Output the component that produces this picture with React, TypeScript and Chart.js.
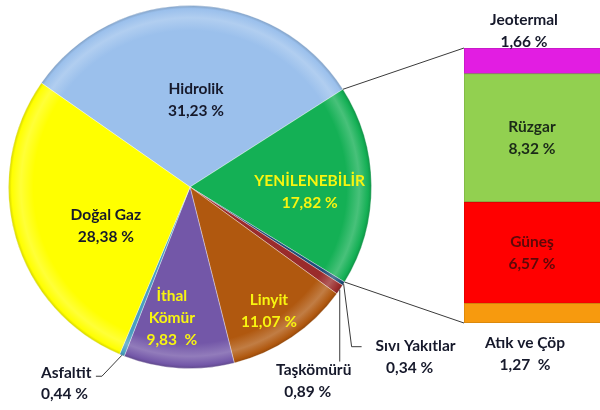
import React, { useEffect, useRef } from 'react';
import { Chart, registerables } from 'chart.js';
Chart.register(...registerables);

// ---- data ----
const pieLabels = ['Hidrolik', 'YENİLENEBİLİR', 'Sıvı Yakıtlar', 'Taşkömürü', 'Linyit', 'İthal Kömür', 'Asfaltit', 'Doğal Gaz'];
const pieValues = [31.23, 17.82, 0.34, 0.89, 11.07, 9.83, 0.44, 28.38];
const pieColors = ['#9BC0EC', '#14B055', '#1F4E79', '#9A2B2B', '#B0580F', '#7357A8', '#4A9FC0', '#FFFF00'];

const barLabels = ['Atık ve Çöp', 'Güneş', 'Rüzgar', 'Jeotermal'];
const barValues = [1.27, 6.57, 8.32, 1.66];
const barColors = ['#F79A0E', '#FF0000', '#92D050', '#E21DE2'];

const wideGap = ['İthal Kömür', 'Atık ve Çöp'];
const fmt = (label: string, v: number) =>
  v.toFixed(2).replace('.', ',') + (wideGap.includes(label) ? '  %' : ' %');

// ---- styles ----
const FONT = 'bold 15.5px Lato';
const DARK = '#16192b';
const YELLOW = '#F8F510';
const LINE_H = 22;

function hexToRgb(h: string) {
  const n = parseInt(h.slice(1), 16);
  return [(n >> 16) & 255, (n >> 8) & 255, n & 255];
}
function mix(hex: string, target: string, t: number) {
  const a = hexToRgb(hex), b = hexToRgb(target);
  const c = a.map((x, i) => Math.round(x + (b[i] - x) * t));
  return `rgb(${c[0]},${c[1]},${c[2]})`;
}

const insidePlacement: Record<number, { k: number; dTheta: number; color: string; lines?: string[] }> = {
  0: { k: 0.48, dTheta: 2.7, color: DARK },
  1: { k: 0.66, dTheta: 3.1, color: YELLOW },
  4: { k: 0.81, dTheta: 1.6, color: YELLOW },
  5: { k: 0.73, dTheta: 4.3, color: YELLOW, lines: ['İthal', 'Kömür'] },
  7: { k: 0.51, dTheta: -8.5, color: DARK },
};

const outsidePlacement: Record<number, { leader: number[][]; name: number[]; value: number[]; align: CanvasTextAlign }> = {
  2: { leader: [[8, 63], [18, 63]], name: [72, 62], value: [66, 84], align: 'center' },
  3: { leader: [[0, 72]], name: [-26, 80], value: [-32, 102], align: 'center' },
  6: { leader: [[-20, 21], [-26, 21]], name: [-81, 18], value: [-81, 39], align: 'left' },
};

const pieLabelPlugin = {
  id: 'pieLabels',
  afterDatasetsDraw(chart: any) {
    const ctx = chart.ctx as CanvasRenderingContext2D;
    const meta = chart.getDatasetMeta(0);
    ctx.save();
    ctx.font = FONT;
    ctx.textBaseline = 'middle';
    meta.data.forEach((el: any, i: number) => {
      const { x, y, startAngle, endAngle, outerRadius } = el;
      const mid = (startAngle + endAngle) / 2;
      const label = pieLabels[i];
      const valText = fmt(label, pieValues[i]);
      const ip = insidePlacement[i];
      if (ip) {
        const a = mid + (ip.dTheta * Math.PI) / 180;
        const px = x + Math.cos(a) * outerRadius * ip.k;
        const py = y + Math.sin(a) * outerRadius * ip.k;
        const lines = [...(ip.lines || [label]), valText];
        ctx.fillStyle = ip.color;
        ctx.textAlign = 'center';
        const n = lines.length;
        lines.forEach((t, j) => ctx.fillText(t, px, py + (j - (n - 1) / 2) * LINE_H));
        return;
      }
      const op = outsidePlacement[i];
      if (op) {
        const ex = x + Math.cos(mid) * outerRadius;
        const ey = y + Math.sin(mid) * outerRadius;
        ctx.strokeStyle = '#3a3a3a';
        ctx.lineWidth = 1;
        ctx.beginPath();
        ctx.moveTo(ex, ey);
        op.leader.forEach(([dx, dy]) => ctx.lineTo(ex + dx, ey + dy));
        ctx.stroke();
        ctx.fillStyle = DARK;
        ctx.textAlign = op.align;
        ctx.fillText(label, ex + op.name[0], ey + op.name[1]);
        ctx.fillText(valText, ex + op.value[0], ey + op.value[1]);
      }
    });
    ctx.restore();
  },
};

const barTextColors: Record<string, string> = {
  'Atık ve Çöp': DARK,
  'Güneş': '#5e0808',
  'Rüzgar': '#1b2a18',
  'Jeotermal': DARK,
};

function makeBarPlugin(pie: Chart) {
  return {
    id: 'barLabels',
    afterDatasetsDraw(chart: any) {
      const ctx = chart.ctx as CanvasRenderingContext2D;
      ctx.save();
      // connectors from renewable slice to bar
      const arc: any = pie.getDatasetMeta(0).data[1];
      const top: any = chart.getDatasetMeta(barLabels.length - 1).data[0];
      const bottom: any = chart.getDatasetMeta(0).data[0];
      const left = top.x - top.width / 2;
      ctx.strokeStyle = '#3a3a3a';
      ctx.lineWidth = 1;
      ctx.beginPath();
      ctx.moveTo(arc.x + Math.cos(arc.startAngle) * arc.outerRadius, arc.y + Math.sin(arc.startAngle) * arc.outerRadius);
      ctx.lineTo(left, top.y);
      ctx.moveTo(arc.x + Math.cos(arc.endAngle) * arc.outerRadius, arc.y + Math.sin(arc.endAngle) * arc.outerRadius);
      ctx.lineTo(left, bottom.base);
      ctx.stroke();

      ctx.font = FONT;
      ctx.textAlign = 'center';
      ctx.textBaseline = 'middle';
      barLabels.forEach((label, i) => {
        const el: any = chart.getDatasetMeta(i).data[0];
        const lines = [label, fmt(label, barValues[i])];
        ctx.fillStyle = barTextColors[label];
        let y0: number;
        let cx = el.x - 3;
        if (i === barLabels.length - 1) { y0 = el.y - 28; cx = el.x - 11; }
        else if (i === 0) { y0 = el.base + 20; cx = el.x - 10; }
        else y0 = (el.y + el.base) / 2 - LINE_H / 2;
        lines.forEach((t, j) => ctx.fillText(t, cx, y0 + j * LINE_H));
      });
      ctx.restore();
    },
  };
}

export default function App() {
  const pieRef = useRef<HTMLCanvasElement>(null);
  const barRef = useRef<HTMLCanvasElement>(null);

  useEffect(() => {
    const pie = new Chart(pieRef.current!, {
      type: 'pie',
      data: {
        labels: pieLabels,
        datasets: [
          {
            data: pieValues,
            backgroundColor: (c: any) => {
              const base = pieColors[c.dataIndex];
              const area = c.chart.chartArea;
              if (!area) return base;
              const cx = (area.left + area.right) / 2;
              const cy = (area.top + area.bottom) / 2;
              const r = Math.min(area.right - area.left, area.bottom - area.top) / 2;
              const g = c.chart.ctx.createRadialGradient(cx, cy, 0, cx, cy, r);
              g.addColorStop(0, base);
              g.addColorStop(0.86, base);
              g.addColorStop(0.93, mix(base, '#ffffff', 0.22));
              g.addColorStop(0.98, base);
              g.addColorStop(1, mix(base, '#000000', 0.2));
              return g;
            },
            borderColor: 'rgba(255,255,255,0.35)',
            borderWidth: 1,
            hoverOffset: 0,
          },
        ],
      },
      options: {
        responsive: false,
        animation: false,
        rotation: -55,
        layout: { padding: { left: 8, top: 5, right: 228, bottom: 41 } },
        plugins: { legend: { display: false }, tooltip: { enabled: false } },
      },
      plugins: [pieLabelPlugin],
    } as any);

    const total = barValues.reduce((a, b) => a + b, 0);
    const bar = new Chart(barRef.current!, {
      type: 'bar',
      data: {
        labels: [''],
        datasets: barLabels.map((l, i) => ({
          label: l,
          data: [barValues[i]],
          backgroundColor: barColors[i],
          borderColor: mix(barColors[i], '#000000', 0.15),
          borderWidth: 1,
          borderSkipped: false,
          barPercentage: 1,
          categoryPercentage: 1,
        })),
      },
      options: {
        responsive: false,
        animation: false,
        layout: { padding: { left: 464, right: 14, top: 48, bottom: 87 } },
        scales: {
          x: { display: false, stacked: true },
          y: { display: false, stacked: true, min: 0, max: total },
        },
        plugins: { legend: { display: false }, tooltip: { enabled: false } },
      },
      plugins: [makeBarPlugin(pie)],
    } as any);

    return () => {
      bar.destroy();
      pie.destroy();
    };
  }, []);

  return (
    <div style={{ position: 'absolute', left: 0, top: 0, width: 600, height: 410, overflow: 'hidden', background: '#ffffff' }}>
      <canvas ref={pieRef} width={600} height={410} style={{ position: 'absolute', left: 0, top: 0 }} />
      <canvas ref={barRef} width={620} height={410} style={{ position: 'absolute', left: 0, top: 0 }} />
    </div>
  );
}
